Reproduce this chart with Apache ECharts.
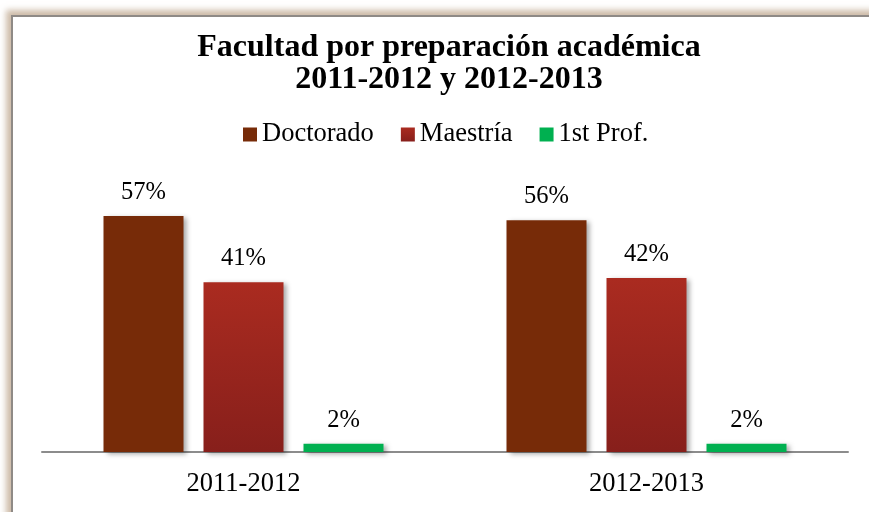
<!DOCTYPE html>
<html>
<head>
<meta charset="utf-8">
<script src="https://cdn.jsdelivr.net/npm/echarts@6/dist/echarts.min.js"></script>
<style>
  html, body { margin: 0; padding: 0; background: #fff; overflow: hidden; }
  #frame {
    position: absolute; left: 11px; top: 15px; width: 900px; height: 560px;
    border-left: 2px solid #8f8a86; border-top: 2px solid #8f8a86;
    box-shadow: -5px -5px 6px rgba(190, 165, 140, 0.75);
    background: #fff;
  }
  #main { position: absolute; left: 0; top: 0; width: 869px; height: 512px; }
</style>
</head>
<body>
<div id="frame"></div>
<div id="main"></div>
<script>
var categories = ['2011-2012', '2012-2013'];
var doctorado = [57, 56];
var maestria = [41, 42];
var primerProf = [2, 2];

var chart = echarts.init(document.getElementById('main'));

var serif = '"Liberation Serif", "Times New Roman", serif';

// label above each bar
var barLabel = {
  show: true,
  position: 'top',
  distance: 11,
  formatter: '{c}%',
  fontFamily: serif,
  fontSize: 24.5,
  color: '#000'
};

var shadow = {
  shadowColor: 'rgba(0,0,0,0.35)',
  shadowBlur: 5,
  shadowOffsetX: 3,
  shadowOffsetY: 2
};

var option = {
  animation: false,
  backgroundColor: 'transparent',
  title: {
    text: 'Facultad por preparación académica\n2011-2012 y 2012-2013',
    left: 444,
    textAlign: 'center',
    top: 27,
    textStyle: {
      fontFamily: serif,
      fontWeight: 'bold',
      fontSize: 32,
      lineHeight: 32,
      color: '#000'
    }
  },
  legend: {
    top: 121,
    left: 243,
    padding: 0,
    itemWidth: 14,
    itemHeight: 14,
    itemGap: 27,
    icon: 'rect',
    textStyle: { fontFamily: serif, fontSize: 26.5, color: '#000' },
    data: ['Doctorado', 'Maestría', '1st Prof.']
  },
  grid: {
    left: 42,
    right: 21,
    top: 203.6,
    bottom: 60,
    containLabel: false
  },
  xAxis: {
    type: 'category',
    data: categories,
    axisLine: { lineStyle: { color: '#8c8c8c', width: 2 } },
    axisTick: { show: false },
    axisLabel: {
      fontFamily: serif,
      fontSize: 26.5,
      color: '#000',
      margin: 19
    }
  },
  yAxis: {
    type: 'value',
    min: 0,
    max: 60,
    show: false,
    splitLine: { show: false }
  },
  series: [
    {
      name: 'Doctorado',
      type: 'bar',
      data: doctorado,
      barWidth: 80,
      barGap: '25%',
      itemStyle: Object.assign({ color: '#772b08' }, shadow),
      label: barLabel
    },
    {
      name: 'Maestría',
      type: 'bar',
      data: maestria,
      barWidth: 80,
      itemStyle: Object.assign({
        color: new echarts.graphic.LinearGradient(0, 0, 0, 1, [
          { offset: 0, color: '#aa2b20' },
          { offset: 1, color: '#871f1b' }
        ])
      }, shadow),
      label: barLabel
    },
    {
      name: '1st Prof.',
      type: 'bar',
      data: primerProf,
      barWidth: 80,
      itemStyle: Object.assign({ color: '#00b050' }, shadow),
      label: barLabel
    }
  ]
};

chart.setOption(option);
</script>
</body>
</html>
